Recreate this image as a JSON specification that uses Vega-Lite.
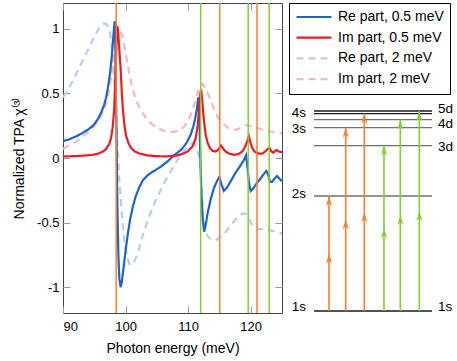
{
  "$schema": "https://vega.github.io/schema/vega-lite/v6.json",
  "padding": {"left": 12, "top": 1, "right": 0, "bottom": 0},
  "config": {
    "font": "Liberation Sans",
    "view": {"stroke": "#444", "strokeWidth": 1},
    "axis": {"domain": false, "grid": false, "tickColor": "#999", "tickSize": -7, "tickWidth": 1, "labelFont": "Liberation Sans", "labelFontSize": 13, "labelColor": "black", "titleFont": "Liberation Sans", "titleFontSize": 14, "titleFontWeight": "normal", "titleColor": "black"},
    "text": {"font": "Liberation Sans", "fontSize": 14, "color": "black"}
  },
  "datasets": {
    "curves": [
      {"series":"Re part, 0.5 meV","E":90,"v":0.13},{"series":"Re part, 0.5 meV","E":91,"v":0.145},{"series":"Re part, 0.5 meV","E":92,"v":0.165},{"series":"Re part, 0.5 meV","E":93,"v":0.19},{"series":"Re part, 0.5 meV","E":94,"v":0.22},{"series":"Re part, 0.5 meV","E":94.8,"v":0.25},{"series":"Re part, 0.5 meV","E":95.5,"v":0.295},{"series":"Re part, 0.5 meV","E":96.1,"v":0.35},{"series":"Re part, 0.5 meV","E":96.6,"v":0.415},{"series":"Re part, 0.5 meV","E":96.9,"v":0.47},{"series":"Re part, 0.5 meV","E":97.2,"v":0.55},{"series":"Re part, 0.5 meV","E":97.5,"v":0.65},{"series":"Re part, 0.5 meV","E":97.8,"v":0.79},{"series":"Re part, 0.5 meV","E":98.0,"v":0.91},{"series":"Re part, 0.5 meV","E":98.15,"v":1.0},{"series":"Re part, 0.5 meV","E":98.28,"v":1.06},{"series":"Re part, 0.5 meV","E":98.42,"v":0.75},{"series":"Re part, 0.5 meV","E":98.55,"v":0.2},{"series":"Re part, 0.5 meV","E":98.7,"v":-0.4},{"series":"Re part, 0.5 meV","E":98.85,"v":-0.75},{"series":"Re part, 0.5 meV","E":99.0,"v":-0.93},{"series":"Re part, 0.5 meV","E":99.2,"v":-1.0},{"series":"Re part, 0.5 meV","E":99.4,"v":-0.96},{"series":"Re part, 0.5 meV","E":99.6,"v":-0.88},{"series":"Re part, 0.5 meV","E":99.8,"v":-0.8},{"series":"Re part, 0.5 meV","E":100.1,"v":-0.68},{"series":"Re part, 0.5 meV","E":100.35,"v":-0.59},{"series":"Re part, 0.5 meV","E":100.75,"v":-0.47},{"series":"Re part, 0.5 meV","E":101.15,"v":-0.38},{"series":"Re part, 0.5 meV","E":101.6,"v":-0.3},{"series":"Re part, 0.5 meV","E":102.2,"v":-0.225},{"series":"Re part, 0.5 meV","E":102.8,"v":-0.17},{"series":"Re part, 0.5 meV","E":103.5,"v":-0.135},{"series":"Re part, 0.5 meV","E":104.1,"v":-0.113},{"series":"Re part, 0.5 meV","E":104.9,"v":-0.09},{"series":"Re part, 0.5 meV","E":105.7,"v":-0.065},{"series":"Re part, 0.5 meV","E":106.5,"v":-0.035},{"series":"Re part, 0.5 meV","E":107.3,"v":0.0},{"series":"Re part, 0.5 meV","E":108.1,"v":0.035},{"series":"Re part, 0.5 meV","E":108.9,"v":0.065},{"series":"Re part, 0.5 meV","E":109.5,"v":0.1},{"series":"Re part, 0.5 meV","E":109.9,"v":0.13},{"series":"Re part, 0.5 meV","E":110.4,"v":0.18},{"series":"Re part, 0.5 meV","E":110.8,"v":0.24},{"series":"Re part, 0.5 meV","E":111.1,"v":0.3},{"series":"Re part, 0.5 meV","E":111.4,"v":0.38},{"series":"Re part, 0.5 meV","E":111.62,"v":0.47},{"series":"Re part, 0.5 meV","E":111.8,"v":0.3},{"series":"Re part, 0.5 meV","E":111.95,"v":0.0},{"series":"Re part, 0.5 meV","E":112.1,"v":-0.25},{"series":"Re part, 0.5 meV","E":112.3,"v":-0.45},{"series":"Re part, 0.5 meV","E":112.55,"v":-0.57},{"series":"Re part, 0.5 meV","E":112.8,"v":-0.52},{"series":"Re part, 0.5 meV","E":113.1,"v":-0.43},{"series":"Re part, 0.5 meV","E":113.6,"v":-0.32},{"series":"Re part, 0.5 meV","E":114.1,"v":-0.235},{"series":"Re part, 0.5 meV","E":114.6,"v":-0.18},{"series":"Re part, 0.5 meV","E":115.0,"v":-0.145},{"series":"Re part, 0.5 meV","E":115.3,"v":-0.2},{"series":"Re part, 0.5 meV","E":115.7,"v":-0.255},{"series":"Re part, 0.5 meV","E":116.2,"v":-0.23},{"series":"Re part, 0.5 meV","E":116.8,"v":-0.18},{"series":"Re part, 0.5 meV","E":117.5,"v":-0.12},{"series":"Re part, 0.5 meV","E":118.2,"v":-0.07},{"series":"Re part, 0.5 meV","E":118.8,"v":-0.025},{"series":"Re part, 0.5 meV","E":119.25,"v":0.02},{"series":"Re part, 0.5 meV","E":119.5,"v":-0.08},{"series":"Re part, 0.5 meV","E":119.75,"v":-0.2},{"series":"Re part, 0.5 meV","E":120.0,"v":-0.255},{"series":"Re part, 0.5 meV","E":120.4,"v":-0.235},{"series":"Re part, 0.5 meV","E":120.9,"v":-0.2},{"series":"Re part, 0.5 meV","E":121.4,"v":-0.17},{"series":"Re part, 0.5 meV","E":122.0,"v":-0.13},{"series":"Re part, 0.5 meV","E":122.5,"v":-0.1},{"series":"Re part, 0.5 meV","E":122.8,"v":-0.13},{"series":"Re part, 0.5 meV","E":123.1,"v":-0.185},{"series":"Re part, 0.5 meV","E":123.4,"v":-0.185},{"series":"Re part, 0.5 meV","E":123.8,"v":-0.16},{"series":"Re part, 0.5 meV","E":124.2,"v":-0.14},{"series":"Re part, 0.5 meV","E":124.6,"v":-0.16},{"series":"Re part, 0.5 meV","E":125,"v":-0.18},

      {"series":"Im part, 0.5 meV","E":90,"v":0.012},{"series":"Im part, 0.5 meV","E":92,"v":0.015},{"series":"Im part, 0.5 meV","E":93.5,"v":0.019},{"series":"Im part, 0.5 meV","E":94.8,"v":0.025},{"series":"Im part, 0.5 meV","E":95.7,"v":0.035},{"series":"Im part, 0.5 meV","E":96.4,"v":0.05},{"series":"Im part, 0.5 meV","E":96.9,"v":0.07},{"series":"Im part, 0.5 meV","E":97.4,"v":0.11},{"series":"Im part, 0.5 meV","E":97.7,"v":0.16},{"series":"Im part, 0.5 meV","E":97.95,"v":0.24},{"series":"Im part, 0.5 meV","E":98.15,"v":0.36},{"series":"Im part, 0.5 meV","E":98.3,"v":0.52},{"series":"Im part, 0.5 meV","E":98.45,"v":0.75},{"series":"Im part, 0.5 meV","E":98.58,"v":0.95},{"series":"Im part, 0.5 meV","E":98.7,"v":1.02},{"series":"Im part, 0.5 meV","E":98.82,"v":0.97},{"series":"Im part, 0.5 meV","E":99.0,"v":0.84},{"series":"Im part, 0.5 meV","E":99.2,"v":0.7},{"series":"Im part, 0.5 meV","E":99.4,"v":0.5},{"series":"Im part, 0.5 meV","E":99.6,"v":0.36},{"series":"Im part, 0.5 meV","E":99.85,"v":0.24},{"series":"Im part, 0.5 meV","E":100.1,"v":0.17},{"series":"Im part, 0.5 meV","E":100.5,"v":0.11},{"series":"Im part, 0.5 meV","E":100.9,"v":0.077},{"series":"Im part, 0.5 meV","E":101.5,"v":0.05},{"series":"Im part, 0.5 meV","E":102.2,"v":0.035},{"series":"Im part, 0.5 meV","E":103.5,"v":0.02},{"series":"Im part, 0.5 meV","E":105,"v":0.014},{"series":"Im part, 0.5 meV","E":106.7,"v":0.013},{"series":"Im part, 0.5 meV","E":108,"v":0.018},{"series":"Im part, 0.5 meV","E":109,"v":0.03},{"series":"Im part, 0.5 meV","E":109.9,"v":0.05},{"series":"Im part, 0.5 meV","E":110.7,"v":0.09},{"series":"Im part, 0.5 meV","E":111.2,"v":0.15},{"series":"Im part, 0.5 meV","E":111.5,"v":0.24},{"series":"Im part, 0.5 meV","E":111.75,"v":0.38},{"series":"Im part, 0.5 meV","E":111.95,"v":0.5},{"series":"Im part, 0.5 meV","E":112.08,"v":0.53},{"series":"Im part, 0.5 meV","E":112.25,"v":0.45},{"series":"Im part, 0.5 meV","E":112.5,"v":0.3},{"series":"Im part, 0.5 meV","E":112.8,"v":0.18},{"series":"Im part, 0.5 meV","E":113.1,"v":0.12},{"series":"Im part, 0.5 meV","E":113.5,"v":0.075},{"series":"Im part, 0.5 meV","E":113.9,"v":0.055},{"series":"Im part, 0.5 meV","E":114.4,"v":0.05},{"series":"Im part, 0.5 meV","E":114.85,"v":0.065},{"series":"Im part, 0.5 meV","E":115.25,"v":0.097},{"series":"Im part, 0.5 meV","E":115.6,"v":0.072},{"series":"Im part, 0.5 meV","E":116.0,"v":0.05},{"series":"Im part, 0.5 meV","E":116.6,"v":0.033},{"series":"Im part, 0.5 meV","E":117.3,"v":0.025},{"series":"Im part, 0.5 meV","E":118.0,"v":0.03},{"series":"Im part, 0.5 meV","E":118.6,"v":0.048},{"series":"Im part, 0.5 meV","E":119.1,"v":0.085},{"series":"Im part, 0.5 meV","E":119.45,"v":0.13},{"series":"Im part, 0.5 meV","E":119.7,"v":0.17},{"series":"Im part, 0.5 meV","E":119.95,"v":0.12},{"series":"Im part, 0.5 meV","E":120.25,"v":0.077},{"series":"Im part, 0.5 meV","E":120.6,"v":0.05},{"series":"Im part, 0.5 meV","E":121.05,"v":0.038},{"series":"Im part, 0.5 meV","E":121.5,"v":0.033},{"series":"Im part, 0.5 meV","E":121.9,"v":0.035},{"series":"Im part, 0.5 meV","E":122.3,"v":0.05},{"series":"Im part, 0.5 meV","E":122.7,"v":0.07},{"series":"Im part, 0.5 meV","E":123.0,"v":0.078},{"series":"Im part, 0.5 meV","E":123.3,"v":0.052},{"series":"Im part, 0.5 meV","E":123.6,"v":0.04},{"series":"Im part, 0.5 meV","E":123.9,"v":0.055},{"series":"Im part, 0.5 meV","E":124.15,"v":0.062},{"series":"Im part, 0.5 meV","E":124.5,"v":0.05},{"series":"Im part, 0.5 meV","E":125,"v":0.045},

      {"series":"Re part, 2 meV","E":90,"v":0.47},{"series":"Re part, 2 meV","E":90.7,"v":0.52},{"series":"Re part, 2 meV","E":91.5,"v":0.59},{"series":"Re part, 2 meV","E":92.1,"v":0.65},{"series":"Re part, 2 meV","E":93,"v":0.74},{"series":"Re part, 2 meV","E":93.6,"v":0.8},{"series":"Re part, 2 meV","E":94.25,"v":0.86},{"series":"Re part, 2 meV","E":95,"v":0.94},{"series":"Re part, 2 meV","E":95.8,"v":1.01},{"series":"Re part, 2 meV","E":96.4,"v":1.04},{"series":"Re part, 2 meV","E":96.9,"v":1.04},{"series":"Re part, 2 meV","E":97.3,"v":1.01},{"series":"Re part, 2 meV","E":97.65,"v":0.93},{"series":"Re part, 2 meV","E":97.95,"v":0.77},{"series":"Re part, 2 meV","E":98.2,"v":0.58},{"series":"Re part, 2 meV","E":98.5,"v":0.3},{"series":"Re part, 2 meV","E":98.75,"v":0.06},{"series":"Re part, 2 meV","E":99.0,"v":-0.16},{"series":"Re part, 2 meV","E":99.3,"v":-0.37},{"series":"Re part, 2 meV","E":99.55,"v":-0.52},{"series":"Re part, 2 meV","E":99.8,"v":-0.64},{"series":"Re part, 2 meV","E":100.2,"v":-0.76},{"series":"Re part, 2 meV","E":100.6,"v":-0.82},{"series":"Re part, 2 meV","E":100.95,"v":-0.83},{"series":"Re part, 2 meV","E":101.3,"v":-0.81},{"series":"Re part, 2 meV","E":101.7,"v":-0.77},{"series":"Re part, 2 meV","E":102.1,"v":-0.71},{"series":"Re part, 2 meV","E":102.5,"v":-0.64},{"series":"Re part, 2 meV","E":103.0,"v":-0.56},{"series":"Re part, 2 meV","E":103.8,"v":-0.45},{"series":"Re part, 2 meV","E":104.6,"v":-0.35},{"series":"Re part, 2 meV","E":105.4,"v":-0.27},{"series":"Re part, 2 meV","E":106.2,"v":-0.19},{"series":"Re part, 2 meV","E":107.0,"v":-0.12},{"series":"Re part, 2 meV","E":107.8,"v":-0.055},{"series":"Re part, 2 meV","E":108.6,"v":0.01},{"series":"Re part, 2 meV","E":109.4,"v":0.06},{"series":"Re part, 2 meV","E":110.2,"v":0.1},{"series":"Re part, 2 meV","E":110.8,"v":0.115},{"series":"Re part, 2 meV","E":111.3,"v":0.09},{"series":"Re part, 2 meV","E":111.7,"v":0.02},{"series":"Re part, 2 meV","E":112.0,"v":-0.08},{"series":"Re part, 2 meV","E":112.2,"v":-0.27},{"series":"Re part, 2 meV","E":112.45,"v":-0.48},{"series":"Re part, 2 meV","E":112.7,"v":-0.56},{"series":"Re part, 2 meV","E":113.2,"v":-0.61},{"series":"Re part, 2 meV","E":113.8,"v":-0.635},{"series":"Re part, 2 meV","E":114.3,"v":-0.64},{"series":"Re part, 2 meV","E":114.8,"v":-0.625},{"series":"Re part, 2 meV","E":115.75,"v":-0.59},{"series":"Re part, 2 meV","E":116.5,"v":-0.54},{"series":"Re part, 2 meV","E":117.35,"v":-0.49},{"series":"Re part, 2 meV","E":118.0,"v":-0.45},{"series":"Re part, 2 meV","E":118.7,"v":-0.43},{"series":"Re part, 2 meV","E":119.2,"v":-0.43},{"series":"Re part, 2 meV","E":119.6,"v":-0.46},{"series":"Re part, 2 meV","E":120.0,"v":-0.5},{"series":"Re part, 2 meV","E":120.5,"v":-0.535},{"series":"Re part, 2 meV","E":121.2,"v":-0.55},{"series":"Re part, 2 meV","E":122.1,"v":-0.55},{"series":"Re part, 2 meV","E":123.0,"v":-0.56},{"series":"Re part, 2 meV","E":124.0,"v":-0.57},{"series":"Re part, 2 meV","E":125,"v":-0.585},

      {"series":"Im part, 2 meV","E":90,"v":0.07},{"series":"Im part, 2 meV","E":91,"v":0.1},{"series":"Im part, 2 meV","E":92,"v":0.125},{"series":"Im part, 2 meV","E":92.65,"v":0.145},{"series":"Im part, 2 meV","E":93.5,"v":0.18},{"series":"Im part, 2 meV","E":94.3,"v":0.21},{"series":"Im part, 2 meV","E":94.8,"v":0.235},{"series":"Im part, 2 meV","E":95.5,"v":0.28},{"series":"Im part, 2 meV","E":96.1,"v":0.33},{"series":"Im part, 2 meV","E":96.6,"v":0.38},{"series":"Im part, 2 meV","E":97.0,"v":0.44},{"series":"Im part, 2 meV","E":97.3,"v":0.51},{"series":"Im part, 2 meV","E":97.6,"v":0.6},{"series":"Im part, 2 meV","E":97.95,"v":0.71},{"series":"Im part, 2 meV","E":98.3,"v":0.85},{"series":"Im part, 2 meV","E":98.6,"v":0.95},{"series":"Im part, 2 meV","E":98.9,"v":1.0},{"series":"Im part, 2 meV","E":99.2,"v":0.985},{"series":"Im part, 2 meV","E":99.5,"v":0.94},{"series":"Im part, 2 meV","E":99.8,"v":0.87},{"series":"Im part, 2 meV","E":100.2,"v":0.76},{"series":"Im part, 2 meV","E":100.6,"v":0.65},{"series":"Im part, 2 meV","E":101.0,"v":0.56},{"series":"Im part, 2 meV","E":101.4,"v":0.49},{"series":"Im part, 2 meV","E":101.7,"v":0.45},{"series":"Im part, 2 meV","E":102.2,"v":0.39},{"series":"Im part, 2 meV","E":102.7,"v":0.35},{"series":"Im part, 2 meV","E":103.3,"v":0.31},{"series":"Im part, 2 meV","E":104.0,"v":0.27},{"series":"Im part, 2 meV","E":104.7,"v":0.245},{"series":"Im part, 2 meV","E":105.4,"v":0.225},{"series":"Im part, 2 meV","E":106.4,"v":0.207},{"series":"Im part, 2 meV","E":107.5,"v":0.2},{"series":"Im part, 2 meV","E":108.5,"v":0.213},{"series":"Im part, 2 meV","E":109.2,"v":0.235},{"series":"Im part, 2 meV","E":109.65,"v":0.26},{"series":"Im part, 2 meV","E":110.2,"v":0.31},{"series":"Im part, 2 meV","E":110.7,"v":0.37},{"series":"Im part, 2 meV","E":111.2,"v":0.45},{"series":"Im part, 2 meV","E":111.6,"v":0.52},{"series":"Im part, 2 meV","E":112.0,"v":0.565},{"series":"Im part, 2 meV","E":112.3,"v":0.575},{"series":"Im part, 2 meV","E":112.6,"v":0.555},{"series":"Im part, 2 meV","E":113.0,"v":0.515},{"series":"Im part, 2 meV","E":113.6,"v":0.45},{"series":"Im part, 2 meV","E":114.2,"v":0.37},{"series":"Im part, 2 meV","E":114.7,"v":0.32},{"series":"Im part, 2 meV","E":115.5,"v":0.27},{"series":"Im part, 2 meV","E":116.3,"v":0.235},{"series":"Im part, 2 meV","E":117.2,"v":0.22},{"series":"Im part, 2 meV","E":117.9,"v":0.222},{"series":"Im part, 2 meV","E":118.6,"v":0.24},{"series":"Im part, 2 meV","E":119.2,"v":0.255},{"series":"Im part, 2 meV","E":119.8,"v":0.25},{"series":"Im part, 2 meV","E":120.5,"v":0.24},{"series":"Im part, 2 meV","E":121.3,"v":0.23},{"series":"Im part, 2 meV","E":122.2,"v":0.215},{"series":"Im part, 2 meV","E":123.2,"v":0.205},{"series":"Im part, 2 meV","E":124.1,"v":0.198},{"series":"Im part, 2 meV","E":125,"v":0.19}
    ],
    "vlines": [
      {"kind":"s","E":98.5},{"kind":"s","E":115.05},{"kind":"s","E":121.0},
      {"kind":"d","E":112.0},{"kind":"d","E":119.6},{"kind":"d","E":122.95}
    ],
    "levels": [
      {"state":"1s","e":0,"x1":24,"x2":142},{"state":"2s","e":115,"x1":24,"x2":142},{"state":"3d","e":165.4,"x1":24,"x2":142},{"state":"3s","e":183.4,"x1":24,"x2":142},{"state":"4d","e":191.4,"x1":24,"x2":142},{"state":"4s","e":197.4,"x1":24,"x2":142},{"state":"5d","e":200,"x1":24,"x2":142}
    ],
    "levelLabels": [
      {"label":"1s","x":16,"e":4,"side":"left"},{"label":"2s","x":16,"e":117.4,"side":"left"},{"label":"3s","x":16,"e":182.2,"side":"left"},{"label":"4s","x":16,"e":197.9,"side":"left"},
      {"label":"1s","x":148,"e":4,"side":"right"},{"label":"3d","x":148,"e":164,"side":"right"},{"label":"4d","x":148,"e":187.0,"side":"right"},{"label":"5d","x":148,"e":202.4,"side":"right"}
    ],
    "arrows": [
      {"kind":"s","x":39,"from":0,"to":115},{"kind":"s","x":55.7,"from":0,"to":183.4},{"kind":"s","x":74.3,"from":0,"to":197.4},
      {"kind":"d","x":94,"from":0,"to":165.4},{"kind":"d","x":110.3,"from":0,"to":191.4},{"kind":"d","x":129.3,"from":0,"to":200}
    ],
    "heads": [
      {"kind":"s","x":39,"e":57.5},{"kind":"s","x":39,"e":115},
      {"kind":"s","x":55.7,"e":91.7},{"kind":"s","x":55.7,"e":183.4},
      {"kind":"s","x":74.3,"e":98.7},{"kind":"s","x":74.3,"e":197.4},
      {"kind":"d","x":94,"e":82.7},{"kind":"d","x":94,"e":165.4},
      {"kind":"d","x":110.3,"e":95.7},{"kind":"d","x":110.3,"e":191.4},
      {"kind":"d","x":129.3,"e":100},{"kind":"d","x":129.3,"e":200}
    ]
  },
  "spacing": 7,
  "hconcat": [
    {
      "width": 219,
      "height": 310,
      "layer": [
        {
          "data": {"name": "curves"},
          "transform": [{"filter": {"field": "series", "oneOf": ["Re part, 2 meV", "Im part, 2 meV"]}}],
          "mark": {"type": "line", "strokeWidth": 2.2, "clip": true},
          "encoding": {
            "x": {"field": "E", "type": "quantitative", "scale": {"domain": [90, 125], "nice": false, "zero": false}, "axis": {"orient": "bottom", "values": [90, 100, 110, 120], "title": "Photon energy (meV)", "labelPadding": 14, "titlePadding": 8}},
            "y": {"field": "v", "type": "quantitative", "scale": {"domain": [-1.2, 1.2], "nice": false, "zero": false}, "axis": {"orient": "left", "values": [-1, -0.5, 0, 0.5, 1], "labelExpr": "'' + datum.value", "title": "Normalized TPA χ⁽³⁾", "labelPadding": 11, "titlePadding": 10}},
            "color": {"field": "series", "type": "nominal", "scale": {"domain": ["Re part, 0.5 meV", "Im part, 0.5 meV", "Re part, 2 meV", "Im part, 2 meV"], "range": ["#1e64c8", "#ec1c24", "#b6cdee", "#f9b9bb"]}, "legend": {"title": null, "orient": "none", "legendX": 226, "legendY": 0, "padding": 6, "strokeColor": "black", "fillColor": "white", "cornerRadius": 0, "symbolType": "stroke", "symbolSize": 1225, "symbolStrokeWidth": 2.2, "clipHeight": 16, "rowPadding": 4.7, "labelFontSize": 14, "labelOffset": 5, "labelColor": "black", "labelLimit": 300}},
            "strokeDash": {"field": "series", "type": "nominal", "scale": {"domain": ["Re part, 0.5 meV", "Im part, 0.5 meV", "Re part, 2 meV", "Im part, 2 meV"], "range": [[1, 0], [1, 0], [7, 5], [7, 5]]}, "legend": {"title": null, "orient": "none", "legendX": 226, "legendY": 0, "padding": 6, "strokeColor": "black", "fillColor": "white", "cornerRadius": 0, "symbolType": "stroke", "symbolSize": 1225, "symbolStrokeWidth": 2.2, "clipHeight": 16, "rowPadding": 4.7, "labelFontSize": 14, "labelOffset": 5, "labelColor": "black", "labelLimit": 300}}
          }
        },
        {
          "data": {"name": "curves"},
          "transform": [{"filter": {"field": "series", "oneOf": ["Re part, 0.5 meV", "Im part, 0.5 meV"]}}],
          "mark": {"type": "line", "strokeWidth": 2.2, "clip": true},
          "encoding": {
            "x": {"field": "E", "type": "quantitative", "axis": null},
            "y": {"field": "v", "type": "quantitative", "axis": {"orient": "right", "values": [-1, -0.5, 0, 0.5, 1], "labels": false, "title": null}},
            "color": {"field": "series", "type": "nominal"},
            "strokeDash": {"field": "series", "type": "nominal"}
          }
        },
        {
          "data": {"name": "vlines"},
          "transform": [{"filter": "datum.kind == 's'"}],
          "mark": {"type": "rule", "color": "#ff7f2a", "strokeWidth": 1.5},
          "encoding": {
            "x": {"field": "E", "type": "quantitative", "axis": {"orient": "top", "values": [90, 100, 110, 120], "labels": false, "title": null}}
          }
        },
        {
          "data": {"name": "vlines"},
          "transform": [{"filter": "datum.kind == 'd'"}],
          "mark": {"type": "rule", "color": "#80d030", "strokeWidth": 1.5},
          "encoding": {
            "x": {"field": "E", "type": "quantitative", "axis": null}
          }
        }
      ],
      "resolve": {"axis": {"x": "independent", "y": "independent"}}
    },
    {
      "width": 165,
      "height": 310,
      "view": {"stroke": null},
      "layer": [
        {
          "data": {"name": "levels"},
          "transform": [{"filter": {"field": "state", "oneOf": ["2s", "3d", "3s", "4d"]}}],
          "mark": {"type": "rule", "color": "#707070", "strokeWidth": 1.4},
          "encoding": {
            "y": {"field": "e", "type": "quantitative", "scale": {"domain": [-2, 308], "nice": false, "zero": false}, "axis": null},
            "x": {"field": "x1", "type": "quantitative", "scale": {"domain": [0, 165], "nice": false, "zero": false}, "axis": null},
            "x2": {"field": "x2"}
          }
        },
        {
          "data": {"name": "levels"},
          "transform": [{"filter": {"field": "state", "oneOf": ["1s", "4s", "5d"]}}],
          "mark": {"type": "rule", "color": "#1a1a1a", "strokeWidth": 1.4},
          "encoding": {"y": {"field": "e", "type": "quantitative", "axis": null}, "x": {"field": "x1", "type": "quantitative", "axis": null}, "x2": {"field": "x2"}}
        },
        {
          "data": {"name": "levelLabels"},
          "transform": [{"filter": "datum.side == 'left'"}],
          "mark": {"type": "text", "align": "right", "baseline": "middle", "fontSize": 13.5},
          "encoding": {"y": {"field": "e", "type": "quantitative", "axis": null}, "x": {"field": "x", "type": "quantitative", "axis": null}, "text": {"field": "label", "type": "nominal"}}
        },
        {
          "data": {"name": "levelLabels"},
          "transform": [{"filter": "datum.side == 'right'"}],
          "mark": {"type": "text", "align": "left", "baseline": "middle", "fontSize": 13.5},
          "encoding": {"y": {"field": "e", "type": "quantitative", "axis": null}, "x": {"field": "x", "type": "quantitative", "axis": null}, "text": {"field": "label", "type": "nominal"}}
        },
        {
          "data": {"name": "arrows"},
          "transform": [{"filter": "datum.kind == 's'"}],
          "mark": {"type": "rule", "color": "#ff7f2a", "strokeWidth": 1.6},
          "encoding": {"x": {"field": "x", "type": "quantitative", "axis": null}, "y": {"field": "from", "type": "quantitative", "axis": null}, "y2": {"field": "to"}}
        },
        {
          "data": {"name": "arrows"},
          "transform": [{"filter": "datum.kind == 'd'"}],
          "mark": {"type": "rule", "color": "#80d030", "strokeWidth": 1.6},
          "encoding": {"x": {"field": "x", "type": "quantitative", "axis": null}, "y": {"field": "from", "type": "quantitative", "axis": null}, "y2": {"field": "to"}}
        },
        {
          "data": {"name": "heads"},
          "transform": [{"filter": "datum.kind == 's'"}],
          "mark": {"type": "point", "shape": "M0,0L0.6,2L0,1.4L-0.6,2Z", "size": 100, "filled": true, "opacity": 1, "color": "#ff7f2a"},
          "encoding": {"x": {"field": "x", "type": "quantitative", "axis": null}, "y": {"field": "e", "type": "quantitative", "axis": null}}
        },
        {
          "data": {"name": "heads"},
          "transform": [{"filter": "datum.kind == 'd'"}],
          "mark": {"type": "point", "shape": "M0,0L0.6,2L0,1.4L-0.6,2Z", "size": 100, "filled": true, "opacity": 1, "color": "#80d030"},
          "encoding": {"x": {"field": "x", "type": "quantitative", "axis": null}, "y": {"field": "e", "type": "quantitative", "axis": null}}
        }
      ]
    }
  ]
}
